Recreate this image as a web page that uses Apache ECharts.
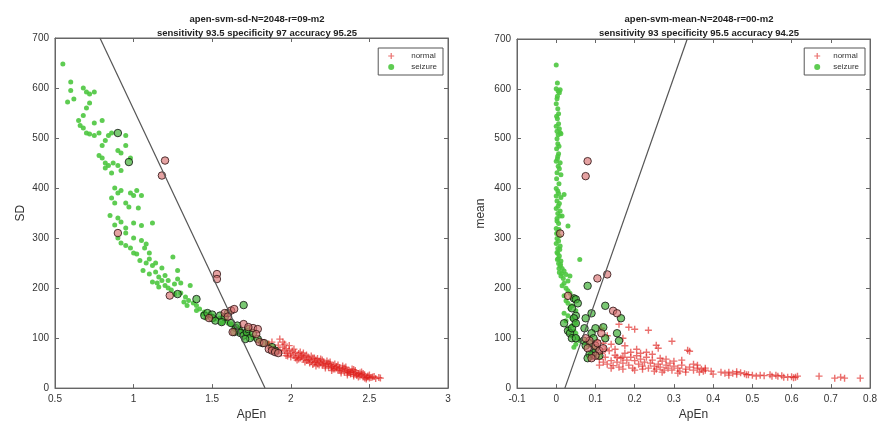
<!DOCTYPE html>
<html><head><meta charset="utf-8">
<script src="https://cdn.jsdelivr.net/npm/echarts@6/dist/echarts.min.js"></script>
<style>html,body{margin:0;padding:0;background:#fff}#c{width:880px;height:426px}</style>
</head><body><div id="c"></div>
<script>
// ---------- DATA ----------
const titleLeft = ['apen-svm-sd-N=2048-r=09-m2', 'sensitivity 93.5 specificity 97 accuracy 95.25'];
const titleRight = ['apen-svm-mean-N=2048-r=00-m2', 'sensitivity 93 specificity 95.5 accuracy 94.25'];
const legendNames = ['normal', 'seizure'];

const sdSeizure = [[0.55,648],[0.6,612],[0.6,595],[0.58,572],[0.62,578],[0.68,600],[0.7,592],[0.72,588],[0.75,592],[0.65,535],[0.66,525],[0.68,520],[0.7,510],[0.72,508],[0.75,505],[0.78,510],[0.68,545],[0.72,570],[0.7,560],[0.8,535],[0.75,530],[0.82,495],[0.84,505],[0.86,510],[0.8,485],[0.78,465],[0.8,460],[0.82,450],[0.84,445],[0.87,450],[0.9,445],[0.9,475],[0.92,470],[0.95,505],[0.95,485],[0.98,460],[0.92,435],[0.86,430],[0.82,440],[0.88,400],[0.9,390],[0.92,395],[0.98,390],[1.0,385],[1.02,395],[0.86,380],[0.88,370],[0.95,370],[0.97,362],[1.03,360],[1.05,385],[0.85,345],[0.9,340],[0.92,332],[0.88,326],[0.95,320],[0.9,300],[0.95,310],[1.0,330],[1.05,325],[0.92,290],[0.95,285],[0.98,280],[1.0,270],[1.02,268],[1.05,295],[1.08,288],[1.12,330],[1.0,300],[1.04,255],[1.08,250],[1.1,258],[1.12,245],[1.06,235],[1.1,228],[1.14,232],[1.16,222],[1.12,212],[1.18,215],[1.2,205],[1.22,200],[1.15,210],[1.25,262],[1.28,218],[1.3,210],[1.26,188],[1.3,190],[1.33,182],[1.35,175],[1.38,170],[1.4,165],[1.42,158],[1.36,205],[1.28,235],[1.2,225],[1.24,196],[1.32,172],[1.45,152],[1.48,148],[1.5,144],[1.46,140],[1.52,138],[1.55,140],[1.58,135],[1.6,130],[1.62,128],[1.64,120],[1.66,118],[1.68,116],[1.7,112],[1.72,108],[1.74,105],[1.76,100],[1.8,95],[1.85,90],[1.56,130],[1.18,240],[1.14,250],[1.1,270],[1.07,280],[1.22,215],[1.34,165],[1.4,155],[1.44,148],[1.16,202],[1.26,208]];
const sdSeizureSV = [[0.9,510],[0.97,452],[1.4,178],[1.28,188],[1.45,145],[1.47,150],[1.5,140],[1.52,135],[1.55,145],[1.58,142],[1.6,150],[1.65,120],[1.67,115],[1.68,110],[1.7,105],[1.72,112],[1.74,100],[1.73,118],[1.66,125],[1.62,130],[1.5,147],[1.76,110],[1.7,166],[1.79,98],[1.82,90],[1.88,82],[1.9,75],[1.56,132],[1.64,112],[1.71,98]];
const sdNormalSV = [[1.2,455],[1.18,425],[0.9,310],[1.23,185],[1.53,228],[1.53,218],[1.62,155],[1.64,158],[1.58,150],[1.48,140],[1.7,128],[1.76,120],[1.79,118],[1.63,112],[1.78,108],[1.8,92],[1.83,90],[1.86,78],[1.88,75],[1.9,72],[1.92,70],[1.6,143],[1.73,122]];
const sdNormal = [[1.86,88],[1.88,92],[1.9,80],[1.92,86],[1.93,76],[1.95,82],[1.96,74],[1.97,79],[1.98,70],[1.99,76],[2.0,68],[2.01,74],[2.02,65],[2.03,71],[2.04,62],[2.05,69],[2.06,60],[2.07,66],[2.08,58],[2.09,64],[2.1,55],[2.11,62],[2.12,57],[2.13,53],[2.14,60],[2.15,51],[2.16,56],[2.17,48],[2.18,54],[2.19,50],[2.2,46],[2.21,52],[2.22,44],[2.23,49],[2.24,42],[2.25,47],[2.26,40],[2.27,45],[2.28,38],[2.29,43],[2.3,36],[2.31,41],[2.32,34],[2.33,39],[2.34,32],[2.35,37],[2.36,30],[2.37,35],[2.38,28],[2.39,33],[2.4,27],[2.41,31],[2.42,25],[2.43,29],[2.44,24],[2.45,27],[2.46,22],[2.47,26],[2.48,21],[2.49,24],[2.5,20],[2.52,22],[2.54,19],[2.57,20],[1.94,70],[1.97,65],[2.0,62],[2.02,78],[2.05,58],[2.08,70],[2.1,66],[2.12,50],[2.15,60],[2.18,46],[2.2,56],[2.22,40],[2.24,50],[2.27,38],[2.3,46],[2.32,30],[2.35,42],[2.38,32],[2.4,37],[2.43,22],[2.45,32],[2.48,18],[2.5,26],[1.91,74],[1.96,88],[2.04,56],[2.06,72],[2.09,52],[2.13,64],[2.16,44],[2.19,58],[2.23,54],[2.26,35],[2.28,48],[2.31,36],[2.34,40],[2.36,26],[2.39,38],[2.42,28],[2.44,30],[2.47,20],[2.51,21],[2.53,23],[2.56,21],[1.89,78],[1.98,64],[2.07,62],[2.11,56],[2.14,47],[2.17,59],[2.21,48],[2.25,52],[2.29,40],[2.33,44],[2.37,31],[2.41,35],[2.46,29],[2.49,22],[1.87,80],[2.03,60],[2.16,52],[2.26,43],[2.36,34],[2.4,24],[1.93,98],[1.95,92],[1.99,85]];
const sdBoundary = [[0.786,700],[1.836,0]];

const meanSeizure = [[0.0,648],[0.003,612],[0.0,600],[0.005,595],[0.008,592],[0.002,580],[0.0,570],[0.004,560],[0.001,545],[0.003,540],[0.006,530],[0.0,525],[0.008,520],[0.01,512],[0.005,508],[0.012,510],[0.002,500],[0.004,490],[0.001,480],[0.006,470],[0.003,460],[0.0,455],[0.01,452],[0.005,445],[0.008,440],[0.002,432],[0.012,428],[0.0,400],[0.004,395],[0.006,390],[0.02,388],[0.012,382],[0.002,375],[0.008,370],[0.0,360],[0.01,355],[0.004,350],[0.015,345],[0.002,340],[0.006,330],[0.03,325],[0.0,320],[0.004,312],[0.008,305],[0.002,300],[0.006,295],[0.0,290],[0.01,285],[0.004,280],[0.002,272],[0.008,265],[0.005,260],[0.012,255],[0.006,250],[0.01,245],[0.015,240],[0.02,235],[0.008,232],[0.025,228],[0.012,225],[0.018,220],[0.03,215],[0.02,210],[0.015,205],[0.06,258],[0.035,225],[0.025,200],[0.03,195],[0.035,190],[0.02,185],[0.04,182],[0.025,175],[0.03,170],[0.04,165],[0.035,160],[0.05,155],[0.02,150],[0.03,145],[0.04,140],[0.025,135],[0.05,130],[0.04,125],[0.03,120],[0.045,115],[0.05,110],[0.04,105],[0.055,100],[0.06,95],[0.05,88],[0.045,82],[0.004,270],[0.009,278],[0.003,258],[0.011,248],[0.007,240],[0.014,230],[0.001,310],[0.007,318],[0.002,335],[0.005,365],[0.009,345],[0.0,385],[0.007,410],[0.001,420],[0.004,465],[0.007,485],[0.002,515],[0.006,550],[0.003,585],[0.01,598]];
const meanSeizureSV = [[0.02,130],[0.03,115],[0.035,110],[0.04,120],[0.045,180],[0.05,178],[0.05,145],[0.045,140],[0.04,160],[0.055,170],[0.04,100],[0.05,100],[0.075,140],[0.072,120],[0.08,205],[0.09,150],[0.1,120],[0.09,110],[0.095,100],[0.125,165],[0.12,122],[0.125,100],[0.155,110],[0.165,140],[0.16,95],[0.085,90],[0.07,95],[0.075,85],[0.1,80],[0.095,70],[0.09,65],[0.085,68],[0.08,60],[0.11,65],[0.05,130]];
const meanNormalSV = [[0.08,455],[0.075,425],[0.01,310],[0.03,185],[0.105,220],[0.13,228],[0.145,155],[0.155,150],[0.08,80],[0.085,95],[0.1,85],[0.105,90],[0.11,75],[0.1,65],[0.09,60],[0.12,80],[0.075,100],[0.115,110]];
const meanNormal = [[0.11,58],[0.12,52],[0.115,70],[0.125,62],[0.13,48],[0.135,75],[0.14,55],[0.145,45],[0.15,66],[0.155,52],[0.16,42],[0.165,60],[0.17,50],[0.175,70],[0.18,56],[0.185,46],[0.19,62],[0.195,40],[0.2,55],[0.205,65],[0.21,48],[0.215,58],[0.22,44],[0.225,52],[0.23,62],[0.235,40],[0.24,50],[0.245,56],[0.25,44],[0.255,38],[0.26,48],[0.265,42],[0.27,54],[0.275,36],[0.28,46],[0.285,40],[0.29,50],[0.295,36],[0.3,44],[0.31,40],[0.315,34],[0.32,46],[0.33,38],[0.34,42],[0.35,36],[0.36,40],[0.365,32],[0.37,38],[0.375,34],[0.38,36],[0.395,34],[0.42,32],[0.43,30],[0.44,32],[0.45,30],[0.46,28],[0.47,31],[0.48,29],[0.485,27],[0.5,26],[0.52,26],[0.53,25],[0.545,27],[0.55,24],[0.565,24],[0.575,25],[0.59,22],[0.6,23],[0.61,22],[0.615,24],[0.67,24],[0.71,20],[0.725,22],[0.735,20],[0.775,20],[0.1,82],[0.105,95],[0.12,90],[0.13,105],[0.14,88],[0.15,78],[0.16,128],[0.17,100],[0.175,85],[0.185,122],[0.2,118],[0.235,116],[0.255,86],[0.26,80],[0.295,94],[0.335,76],[0.34,74],[0.115,120],[0.125,78],[0.155,62],[0.17,62],[0.19,72],[0.205,78],[0.215,70],[0.23,72],[0.245,68],[0.265,60],[0.28,58],[0.3,54],[0.32,56],[0.35,48],[0.36,46],[0.38,40],[0.11,46],[0.14,40],[0.17,38],[0.2,36],[0.22,38],[0.25,34],[0.27,32],[0.31,30],[0.33,32],[0.4,28],[0.44,26],[0.46,33],[0.49,27],[0.51,24],[0.56,26],[0.58,22],[0.605,21]];
const meanBoundary = [[0.022,0],[0.334,700]];

// ---------- STYLE ----------
const plusPath = 'path://M4,0H6V4H10V6H6V10H4V6H0V4H4Z';
const RED = 'rgba(222,32,28,0.8)';
const GREEN = '#4cc63f';
const FONT = 'Liberation Sans, Arial, sans-serif';

function xAxes(gi, min, max, interval) {
  return [
    {gridIndex: gi, type: 'value', min, max, interval, position: 'bottom',
     name: 'ApEn', nameLocation: 'middle', nameGap: 20,
     nameTextStyle: {fontSize: 12, color: '#333', fontFamily: FONT},
     axisLine: {show: true, onZero: false, lineStyle: {color: '#666'}},
     axisTick: {inside: true, length: 4, lineStyle: {color: '#666'}},
     axisLabel: {fontSize: 10, color: '#333', margin: 6, fontFamily: FONT},
     splitLine: {show: false}},
    {gridIndex: gi, type: 'value', min, max, interval, position: 'top',
     axisLine: {show: true, onZero: false, lineStyle: {color: '#666'}},
     axisTick: {inside: true, length: 4, lineStyle: {color: '#666'}},
     axisLabel: {show: false}, splitLine: {show: false}}
  ];
}
function yAxes(gi, name, gap) {
  return [
    {gridIndex: gi, type: 'value', min: 0, max: 700, interval: 100, position: 'left',
     name, nameLocation: 'middle', nameGap: gap,
     nameTextStyle: {fontSize: 12, color: '#333', fontFamily: FONT},
     axisLine: {show: true, onZero: false, lineStyle: {color: '#666'}},
     axisTick: {inside: true, length: 4, lineStyle: {color: '#666'}},
     axisLabel: {fontSize: 10, color: '#333', margin: 6, fontFamily: FONT},
     splitLine: {show: false}},
    {gridIndex: gi, type: 'value', min: 0, max: 700, interval: 100, position: 'right',
     axisLine: {show: true, onZero: false, lineStyle: {color: '#666'}},
     axisTick: {inside: true, length: 4, lineStyle: {color: '#666'}},
     axisLabel: {show: false}, splitLine: {show: false}}
  ];
}
function seriesFor(gi, normal, seizure, normalSV, seizureSV, boundary) {
  const xi = gi * 2, yi = gi * 2;
  return [
    {name: legendNames[1], type: 'scatter', xAxisIndex: xi, yAxisIndex: yi, data: seizure,
     symbol: 'circle', symbolSize: 5, itemStyle: {color: GREEN, opacity: 0.9}, silent: true, z: 2},
    {name: legendNames[0], type: 'scatter', xAxisIndex: xi, yAxisIndex: yi, data: normal,
     symbol: plusPath, symbolSize: 7, itemStyle: {color: RED}, silent: true, z: 2},
    {name: 'sv-seizure', type: 'scatter', xAxisIndex: xi, yAxisIndex: yi, data: seizureSV,
     symbol: 'circle', symbolSize: 7.5,
     itemStyle: {color: 'rgba(60,175,50,0.85)', borderColor: '#111', borderWidth: 1}, silent: true, z: 3},
    {name: 'sv-normal', type: 'scatter', xAxisIndex: xi, yAxisIndex: yi, data: normalSV,
     symbol: 'circle', symbolSize: 7.5,
     itemStyle: {color: 'rgba(215,110,110,0.8)', borderColor: '#2a1010', borderWidth: 1}, silent: true, z: 3},
    {name: 'boundary', type: 'line', xAxisIndex: xi, yAxisIndex: yi, data: boundary,
     symbol: 'none', lineStyle: {color: '#555', width: 1.2}, silent: true, z: 4}
  ];
}

const chart = echarts.init(document.getElementById('c'), null, {renderer: 'canvas'});
chart.setOption({
  backgroundColor: '#fff',
  animation: false,
  title: [
    {text: titleLeft.join('\n'), left: 252, top: 7, textAlign: 'center',
     textStyle: {fontSize: 9.5, fontWeight: 'bold', color: '#222', lineHeight: 14, fontFamily: FONT}},
    {text: titleRight.join('\n'), left: 694, top: 7, textAlign: 'center',
     textStyle: {fontSize: 9.5, fontWeight: 'bold', color: '#222', lineHeight: 14, fontFamily: FONT}}
  ],
  legend: [
    {data: [{name: 'normal', icon: plusPath, itemStyle: {color: RED}}, {name: 'seizure', icon: 'circle', itemStyle: {color: GREEN}}],
     orient: 'vertical', right: 880 - 443, top: 48, itemWidth: 6, itemHeight: 6, itemGap: 3,
     padding: [4, 6, 4, 10], borderColor: '#555', borderWidth: 1, backgroundColor: '#fff',
     textStyle: {fontSize: 8, color: '#333', padding: [0, 0, 0, 12], fontFamily: FONT}, selectedMode: false},
    {data: [{name: 'normal', icon: plusPath, itemStyle: {color: RED}}, {name: 'seizure', icon: 'circle', itemStyle: {color: GREEN}}],
     orient: 'vertical', right: 880 - 865, top: 48, itemWidth: 6, itemHeight: 6, itemGap: 3,
     padding: [4, 6, 4, 10], borderColor: '#555', borderWidth: 1, backgroundColor: '#fff',
     textStyle: {fontSize: 8, color: '#333', padding: [0, 0, 0, 8], fontFamily: FONT}, selectedMode: false}
  ],
  grid: [
    {left: 55, right: 880 - 448, top: 38, bottom: 36, show: true, borderColor: '#666', borderWidth: 1},
    {left: 517, right: 8, top: 39, bottom: 36, show: true, borderColor: '#666', borderWidth: 1}
  ],
  xAxis: [...xAxes(0, 0.5, 3, 0.5), ...xAxes(1, -0.1, 0.8, 0.1)],
  yAxis: [...yAxes(0, 'SD', 28), ...yAxes(1, 'mean', 30)],
  series: [
    ...seriesFor(0, sdNormal, sdSeizure, sdNormalSV, sdSeizureSV, sdBoundary),
    ...seriesFor(1, meanNormal, meanSeizure, meanNormalSV, meanSeizureSV, meanBoundary)
  ]
});
</script>
</body></html>
